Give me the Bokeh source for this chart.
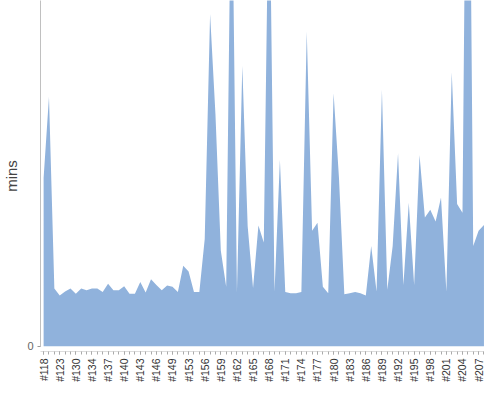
import math

from bokeh.plotting import figure
from bokeh.models import FixedTicker, Range1d
from bokeh.embed import file_html
from bokeh.resources import INLINE

# -----------------------------
# DATA
# -----------------------------
builds = [
    "#118", "#119", "#121", "#123", "#125", "#127", "#130", "#131", "#133", "#134",
    "#135", "#136", "#137", "#138", "#139", "#140", "#141", "#142", "#143", "#144",
    "#145", "#146", "#147", "#148", "#149", "#150", "#152", "#153", "#154", "#155",
    "#156", "#157", "#158", "#159", "#160", "#161", "#162", "#163", "#164", "#165",
    "#166", "#167", "#168", "#169", "#170", "#171", "#172", "#173", "#174", "#175",
    "#176", "#177", "#178", "#179", "#180", "#181", "#182", "#183", "#184", "#185",
    "#186", "#187", "#188", "#189", "#190", "#191", "#192", "#193", "#194", "#195",
    "#196", "#197", "#198", "#199", "#200", "#201", "#202", "#203", "#204", "#205",
    "#206", "#207", "#208",
]

build_mins = [
    28.9, 42.8, 9.9, 8.7, 9.4, 9.9, 9.0, 9.9, 9.6, 9.9,
    9.9, 9.3, 10.7, 9.6, 9.6, 10.3, 9.0, 9.0, 11.0, 9.2,
    11.5, 10.5, 9.6, 10.4, 10.2, 9.3, 13.8, 12.8, 9.3, 9.3,
    18.4, 57.0, 39.8, 16.4, 10.2, 88.7, 9.2, 48.1, 20.6, 10.0,
    20.7, 17.8, 85.7, 9.4, 32.0, 9.3, 9.1, 9.1, 9.3, 54.0,
    19.8, 21.2, 10.2, 9.1, 43.4, 28.9, 8.9, 9.1, 9.3, 9.1,
    8.7, 17.2, 9.4, 44.0, 9.7, 17.2, 33.1, 10.5, 24.6, 10.5,
    32.8, 22.1, 23.4, 21.4, 25.5, 9.4, 47.0, 24.4, 22.9, 127.5,
    17.2, 19.8, 20.8,
]

label_step = 3      # one label every third build
y_top = 59.3        # chart is cut here, tall builds run off the top

n = len(builds)
xs = list(range(n))

# -----------------------------
# FIGURE
# -----------------------------
p = figure(
    width=484, height=384,
    x_range=Range1d(-0.58, n - 1 + 0.1),
    y_range=Range1d(-0.9, y_top),
    output_backend="svg", toolbar_location=None,
    min_border_left=0, min_border_right=0, min_border_top=0, min_border_bottom=0,
)

p.varea(x=xs, y1=0, y2=build_mins, fill_color="#90B2DC")

p.xgrid.visible = False
p.ygrid.visible = False
p.outline_line_color = None

# x axis: small tick per build, label every third
xa = p.xaxis[0]
xa.ticker = FixedTicker(ticks=xs[::label_step], minor_ticks=xs)
xa.major_label_overrides = {i: builds[i] for i in xs[::label_step]}
xa.major_label_orientation = math.pi / 2   # read bottom to top
xa.major_label_text_font = "Liberation Sans"
xa.major_label_text_font_size = "10.5px"
xa.major_label_text_color = "#333333"
xa.major_label_standoff = 4
xa.axis_line_color = "#dddddd"
xa.major_tick_in = 0
xa.major_tick_out = 3
xa.minor_tick_in = 0
xa.minor_tick_out = 3
xa.major_tick_line_color = "#aaaaaa"
xa.minor_tick_line_color = "#aaaaaa"

# y axis: only the zero tick
ya = p.yaxis[0]
ya.ticker = FixedTicker(ticks=[0])
ya.bounds = (0, y_top)
ya.axis_label = "mins"
ya.axis_label_text_font = "Liberation Sans"
ya.axis_label_text_font_size = "15px"
ya.axis_label_text_font_style = "normal"
ya.axis_label_text_color = "#444444"
ya.axis_label_standoff = 4
ya.major_label_text_font = "Liberation Sans"
ya.major_label_text_font_size = "11px"
ya.major_label_text_color = "#666666"
ya.major_label_standoff = 4
ya.axis_line_color = "#c0c0c0"
ya.major_tick_in = 0
ya.major_tick_out = 3
ya.major_tick_line_color = "#999999"
ya.minor_tick_line_color = None

open("out.html", "w").write(file_html(p, INLINE))
